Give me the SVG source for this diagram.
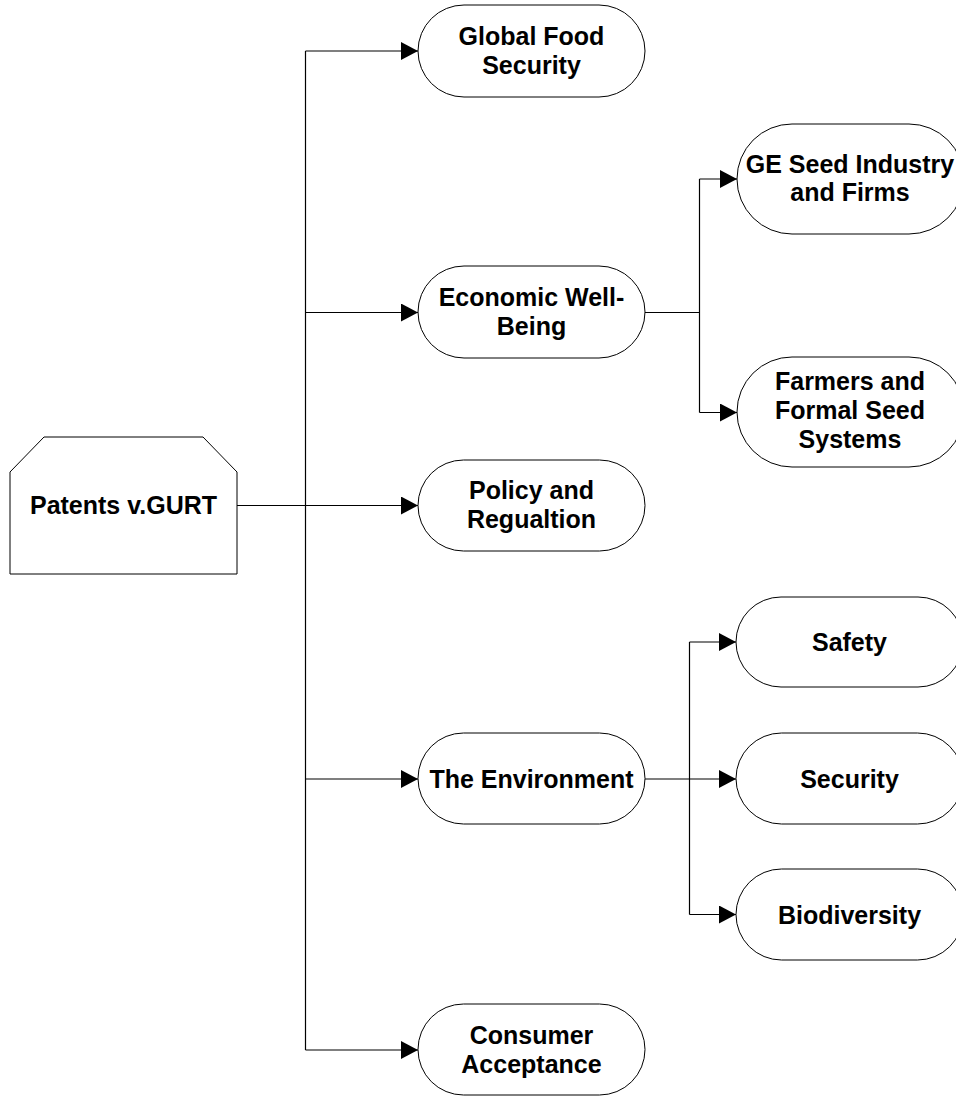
<svg xmlns="http://www.w3.org/2000/svg" width="956" height="1097" viewBox="0 0 956 1097">
<style>
.shape{fill:#fff;stroke:#000;stroke-width:1}
.lbl{font-family:"Liberation Sans",Arial,sans-serif;font-weight:bold;font-size:25px;fill:#000;text-anchor:middle}
.conn{fill:none;stroke:#000;stroke-width:1.2}
.arr{fill:none;stroke:#000;stroke-width:1.2;marker-end:url(#ah)}
</style>
<defs>
<marker id="ah" markerUnits="userSpaceOnUse" markerWidth="18" markerHeight="18" refX="17" refY="9" orient="auto">
<path d="M0,0 L17,9 L0,18 Z" fill="#000"/>
</marker>
</defs>
<rect width="956" height="1097" fill="#fff"/>
<g id="connectors">
<path class="conn" d="M237,505.5 H305.5"/>
<path class="conn" d="M305.5,51 V1050"/>
<path class="arr" d="M305.5,51 H418"/>
<path class="arr" d="M305.5,312.5 H418"/>
<path class="arr" d="M305.5,505.5 H418"/>
<path class="arr" d="M305.5,779 H418"/>
<path class="arr" d="M305.5,1050 H418"/>
<path class="conn" d="M645,312.5 H699.5"/>
<path class="conn" d="M699.5,179 V412.5"/>
<path class="arr" d="M699.5,179 H737"/>
<path class="arr" d="M699.5,412.5 H737"/>
<path class="conn" d="M645,779 H689.5"/>
<path class="conn" d="M689.5,642 V914.5"/>
<path class="arr" d="M689.5,642 H736"/>
<path class="arr" d="M689.5,779 H736"/>
<path class="arr" d="M689.5,914.5 H736"/>
</g>
<g id="patents">
<polygon class="shape" points="10,472 44,437 203,437 237,472 237,574 10,574"/>
<text class="lbl" x="123.5" y="514">Patents v.GURT</text>
</g>
<g id="food">
<rect class="shape" x="418" y="5" width="227" height="92" rx="46" ry="46"/>
<text class="lbl" x="531.5" y="45">Global Food</text>
<text class="lbl" x="531.5" y="74">Security</text>
</g>
<g id="economic">
<rect class="shape" x="418" y="266" width="227" height="92" rx="46" ry="46"/>
<text class="lbl" x="531.5" y="306">Economic Well-</text>
<text class="lbl" x="531.5" y="335">Being</text>
</g>
<g id="policy">
<rect class="shape" x="418" y="460" width="227" height="91" rx="45.5" ry="45.5"/>
<text class="lbl" x="531.5" y="499">Policy and</text>
<text class="lbl" x="531.5" y="528">Regualtion</text>
</g>
<g id="environment">
<rect class="shape" x="418" y="733" width="227" height="91" rx="45.5" ry="45.5"/>
<text class="lbl" x="531.5" y="788">The Environment</text>
</g>
<g id="consumer">
<rect class="shape" x="418" y="1004" width="227" height="91" rx="45.5" ry="45.5"/>
<text class="lbl" x="531.5" y="1044">Consumer</text>
<text class="lbl" x="531.5" y="1073">Acceptance</text>
</g>
<g id="geseed">
<rect class="shape" x="737" y="124" width="227" height="110" rx="55" ry="55"/>
<text class="lbl" x="850" y="173">GE Seed Industry</text>
<text class="lbl" x="850" y="201">and Firms</text>
</g>
<g id="farmers">
<rect class="shape" x="737" y="357" width="227" height="110" rx="55" ry="55"/>
<text class="lbl" x="850" y="390">Farmers and</text>
<text class="lbl" x="850" y="419">Formal Seed</text>
<text class="lbl" x="850" y="448">Systems</text>
</g>
<g id="safety">
<rect class="shape" x="736" y="597" width="227" height="90" rx="45" ry="45"/>
<text class="lbl" x="849.5" y="651">Safety</text>
</g>
<g id="security">
<rect class="shape" x="736" y="733" width="227" height="91" rx="45.5" ry="45.5"/>
<text class="lbl" x="849.5" y="788">Security</text>
</g>
<g id="biodiversity">
<rect class="shape" x="736" y="869" width="227" height="91" rx="45.5" ry="45.5"/>
<text class="lbl" x="849.5" y="924">Biodiversity</text>
</g>
</svg>
